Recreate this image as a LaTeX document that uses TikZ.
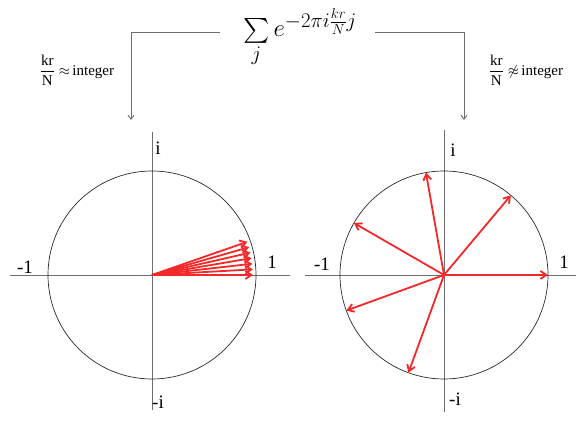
\documentclass[tikz,border=0pt]{standalone}
\usepackage{amsmath}
\usepackage[no-math]{fontspec}
\setmainfont{Liberation Serif}
\usetikzlibrary{arrows.meta,positioning,calc}
\definecolor{phasorred}{HTML}{F42828}
\definecolor{axisgray}{HTML}{6E6E6E}
\definecolor{rimgray}{HTML}{2A2A2A}
\tikzset{
  axisline/.style={draw=axisgray, line width=0.9pt},
  unitcircle/.style={draw=rimgray, line width=0.7pt},
  phasor/.style={
    -{Straight Barb[length=6pt,width=8pt]}, draw=phasorred, line width=1.8pt
  },
  connarrow/.style={
    -{Straight Barb[length=4pt,width=6pt]}, draw=axisgray, line width=0.9pt
  },
  axislabel/.style={font=\fontsize{19}{22}\selectfont, inner sep=1pt},
  condlabel/.style={font=\fontsize{15}{18}\selectfont, inner sep=1pt},
  sumlabel/.style={font=\fontsize{31}{34}\selectfont, inner sep=0pt},
}

\begin{document}
\begin{tikzpicture}[x=1pt, y=1pt]
  \useasboundingbox (0,0) rectangle (576,422);

  % the sum and the two cases
  \node[sumlabel, anchor=base] (sum) at (300,385)
    {$\sum\limits_j e^{-2\pi i\frac{kr}{N}j}$};
  \node[condlabel] (caseL) at (77,352)
    {$\dfrac{\text{kr}}{\text{N}}\approx$\,integer};
  \node[condlabel] (caseR) at (526,352)
    {$\dfrac{\text{kr}}{\text{N}}\not\approx$\,integer};

  \coordinate (sumL) at (220,390);
  \coordinate (sumR) at (375,390);
  \coordinate (downL) at (131,302);
  \coordinate (downR) at (464,302);
  \draw[connarrow] (sumL) -| (downL);
  \draw[connarrow] (sumR) -| (downR);

  % left plane: kr/N close to an integer
  \coordinate (oL) at (152,147);
  \coordinate (lW) at (10,147);
  \coordinate (lE) at (290,147);
  \coordinate (lN) at (152,290);
  \coordinate (lS) at (152,12);
  \draw[axisline] (lW) -- (lE);
  \draw[axisline] (lN) -- (lS);
  \draw[unitcircle] (oL) circle[radius=104];
  \node[axislabel] (lI)  at (158,274) {i};
  \node[axislabel] (lmI) at (158,20)  {-i};
  \node[axislabel] (lm1) at (25,155)  {-1};
  \node[axislabel] (l1)  at (272,160) {1};
  \foreach \a [count=\k] in {0,3.2,...,19.5} {
    \coordinate (pL\k) at ($(oL)+(\a:101)$);
    \draw[phasor] (oL) -- (pL\k);
  }

  % right plane: kr/N not an integer
  \coordinate (oR) at (444,147);
  \coordinate (rW) at (305,147);
  \coordinate (rE) at (576,147);
  \coordinate (rN) at (444,292);
  \coordinate (rS) at (444,10);
  \draw[axisline] (rW) -- (rE);
  \draw[axisline] (rN) -- (rS);
  \draw[unitcircle] (oR) circle[radius=104];
  \node[axislabel] (rI)  at (453,272) {i};
  \node[axislabel] (rmI) at (455,23)  {-i};
  \node[axislabel] (rm1) at (322,158) {-1};
  \node[axislabel] (r1)  at (564,160) {1};
  \foreach \a [count=\k] in {0,50,...,250} {
    \coordinate (pR\k) at ($(oR)+(\a:104)$);
    \draw[phasor] (oR) -- (pR\k);
  }
\end{tikzpicture}
\end{document}
